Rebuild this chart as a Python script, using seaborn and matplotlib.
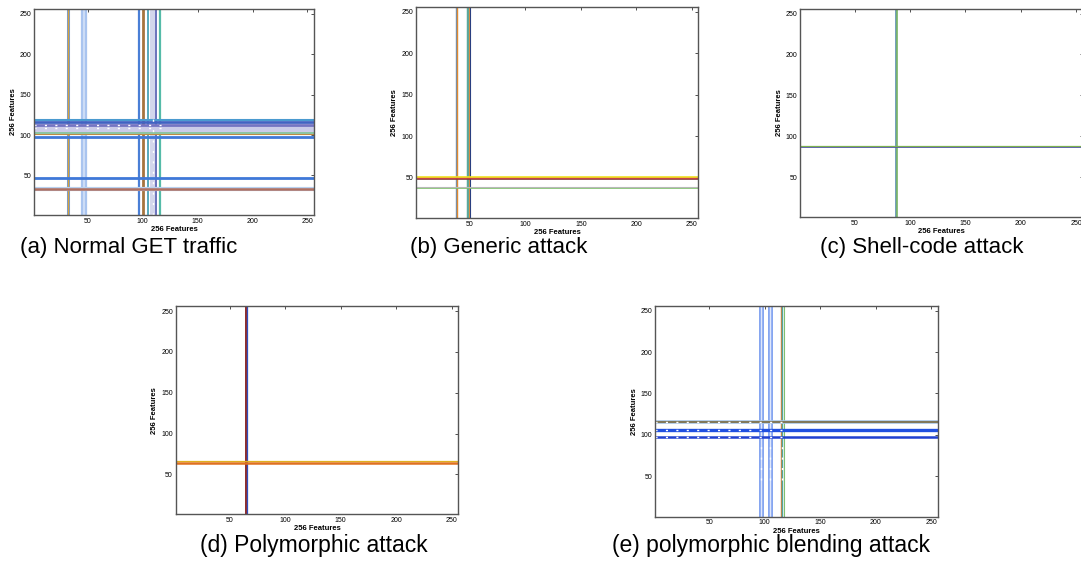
import matplotlib
matplotlib.use('Agg')
import matplotlib.pyplot as plt
import seaborn as sns
import numpy as np

sns.set_style('white')
plt.rcParams['font.family'] = ['Liberation Sans', 'DejaVu Sans']
plt.rcParams['text.color'] = 'black'

# feature range (256 byte features)
f_lo, f_hi = 1, 256
ticks = [50, 100, 150, 200, 250]

# (a) Normal GET traffic
a_vert = [32, 32, 46.5, 46.5, 97, 100, 105, 109, 112.5, 116]
a_vert_col = ['#6f9be0', '#d6a23a', '#a9c4ef', '#d4e2f8', '#4a7fd6', '#a5743e', '#3a9bb0', '#d3d6ec', '#5a62b4', '#55bba8']
a_vert_lw = [2.2, 1.0, 4.5, 1.2, 1.6, 2.0, 1.2, 5.0, 1.2, 1.6]
a_horz = [33.5, 33.5, 47, 98, 101, 103, 108.5, 113, 116, 118]
a_horz_col = ['#b8d0ee', '#b07060', '#3f78d8', '#3f78d8', '#c08a40', '#8cc4a4', '#cacbe8', '#7474c2', '#4262c2', '#4a9ad0']
a_horz_lw = [3.0, 1.8, 2.0, 2.0, 1.5, 1.5, 5.0, 2.0, 2.0, 1.5]

# (b) Generic attack
b_vert = [37, 38, 48, 49.5, 50]
b_vert_col = ['#6b8fb8', '#e08a30', '#5aa89c', '#e09040', '#2a3f80']
b_vert_lw = [1.0, 1.0, 2.5, 0.8, 0.8]
b_horz = [37.5, 39, 48, 49.5, 51]
b_horz_col = ['#7cc06a', '#b8b8b8', '#8a3a3a', '#d04040', '#f0e020']
b_horz_lw = [1.2, 0.8, 1.2, 1.2, 1.2]

# (c) Shell-code attack
c_vert = [87.5, 88.5]
c_vert_col = ['#5a8fb0', '#78b464']
c_vert_lw = [1.2, 1.2]
c_horz = [87.5, 88.5]
c_horz_col = ['#5050b0', '#7cb050']
c_horz_lw = [1.3, 0.9]

# (d) Polymorphic attack
d_vert = [64.5, 65.5]
d_vert_col = ['#8b2a2a', '#3050c0']
d_vert_lw = [1.4, 0.9]
d_horz = [64.5, 66]
d_horz_col = ['#e07020', '#e0b020']
d_horz_lw = [1.8, 0.9]

# (e) polymorphic blending attack
e_vert = [97, 97, 105, 105, 115, 116, 117]
e_vert_col = ['#86a6f0', '#dfe7fb', '#86a6f0', '#dfe7fb', '#d08040', '#50a8a0', '#80c070']
e_vert_lw = [3.6, 1.0, 3.6, 1.0, 1.0, 1.0, 0.8]
e_horz = [97.5, 105.3, 115, 115]
e_horz_col = ['#2040d0', '#2050e0', '#a8c4e6', '#7a6a40']
e_horz_lw = [1.8, 2.4, 2.6, 1.2]

# white gaps where the markers overlap (orientation, position, from, to)
a_gaps = [('h', 108.5, 1, 120), ('h', 113, 1, 120), ('v', 109, 1, 120)]
e_gaps = [('h', 97.5, 1, 116), ('h', 105.3, 1, 116), ('h', 115, 1, 116),
          ('v', 97, 45, 95), ('v', 105, 45, 95), ('v', 116, 45, 95)]

panels = [
    ('(a) Normal GET traffic', [0.0315, 0.6201, 0.259, 0.364],
     a_vert, a_vert_col, a_vert_lw, a_horz, a_horz_col, a_horz_lw, a_gaps),
    ('(b) Generic attack', [0.3846, 0.6143, 0.2614, 0.3738],
     b_vert, b_vert_col, b_vert_lw, b_horz, b_horz_col, b_horz_lw, []),
    ('(c) Shell-code attack', [0.7403, 0.6161, 0.2615, 0.3686],
     c_vert, c_vert_col, c_vert_lw, c_horz, c_horz_col, c_horz_lw, []),
    ('(d) Polymorphic attack', [0.1625, 0.0913, 0.2614, 0.3675],
     d_vert, d_vert_col, d_vert_lw, d_horz, d_horz_col, d_horz_lw, []),
    ('(e) polymorphic blending attack', [0.6059, 0.0871, 0.2615, 0.3728],
     e_vert, e_vert_col, e_vert_lw, e_horz, e_horz_col, e_horz_lw, e_gaps),
]

fig = plt.figure(figsize=(10.81, 5.66), dpi=100)

for title, rect, vx, vc, vw, hy, hc, hw, gaps in panels:
    ax = fig.add_axes(rect)
    for x, c, w in zip(vx, vc, vw):
        sns.lineplot(x=[x, x], y=[f_lo, f_hi], color=c, linewidth=w, ax=ax,
                     estimator=None, sort=False, legend=False)
    for y, c, w in zip(hy, hc, hw):
        sns.lineplot(x=[f_lo, f_hi], y=[y, y], color=c, linewidth=w, ax=ax,
                     estimator=None, sort=False, legend=False)
    for o, p, s, e in gaps:
        if o == 'h':
            xs, ys = [s, e], [p, p]
        else:
            xs, ys = [p, p], [s, e]
        ax.plot(xs, ys, color='white', linewidth=1.0, linestyle=(0, (1.5, 6)))
    ax.set_xlim(f_lo, f_hi)
    ax.set_ylim(f_lo, f_hi)
    ax.set_xticks(ticks)
    ax.set_yticks(ticks)
    ax.tick_params(direction='in', length=2.5, width=0.6, labelsize=5,
                   top=True, right=True, pad=2, colors='#333333', labelcolor='black')
    for sp in ax.spines.values():
        sp.set_color('#555555')
        sp.set_linewidth(1.0)
    ax.set_xlabel('256 Features', fontsize=5.5, fontweight='bold', labelpad=1, color='black')
    ax.set_ylabel('256 Features', fontsize=5.5, fontweight='bold', labelpad=2, color='black')

# captions
fig.text(0.0185, 0.5636, '(a) Normal GET traffic', fontsize=16, va='center')
fig.text(0.3793, 0.5636, '(b) Generic attack', fontsize=16, va='center')
fig.text(0.7586, 0.5636, '(c) Shell-code attack', fontsize=16, va='center')
fig.text(0.185, 0.037, '(d) Polymorphic attack', fontsize=16.5, va='center')
fig.text(0.566, 0.037, '(e) polymorphic blending attack', fontsize=16.5, va='center')

fig.savefig('out.png', dpi=100)
